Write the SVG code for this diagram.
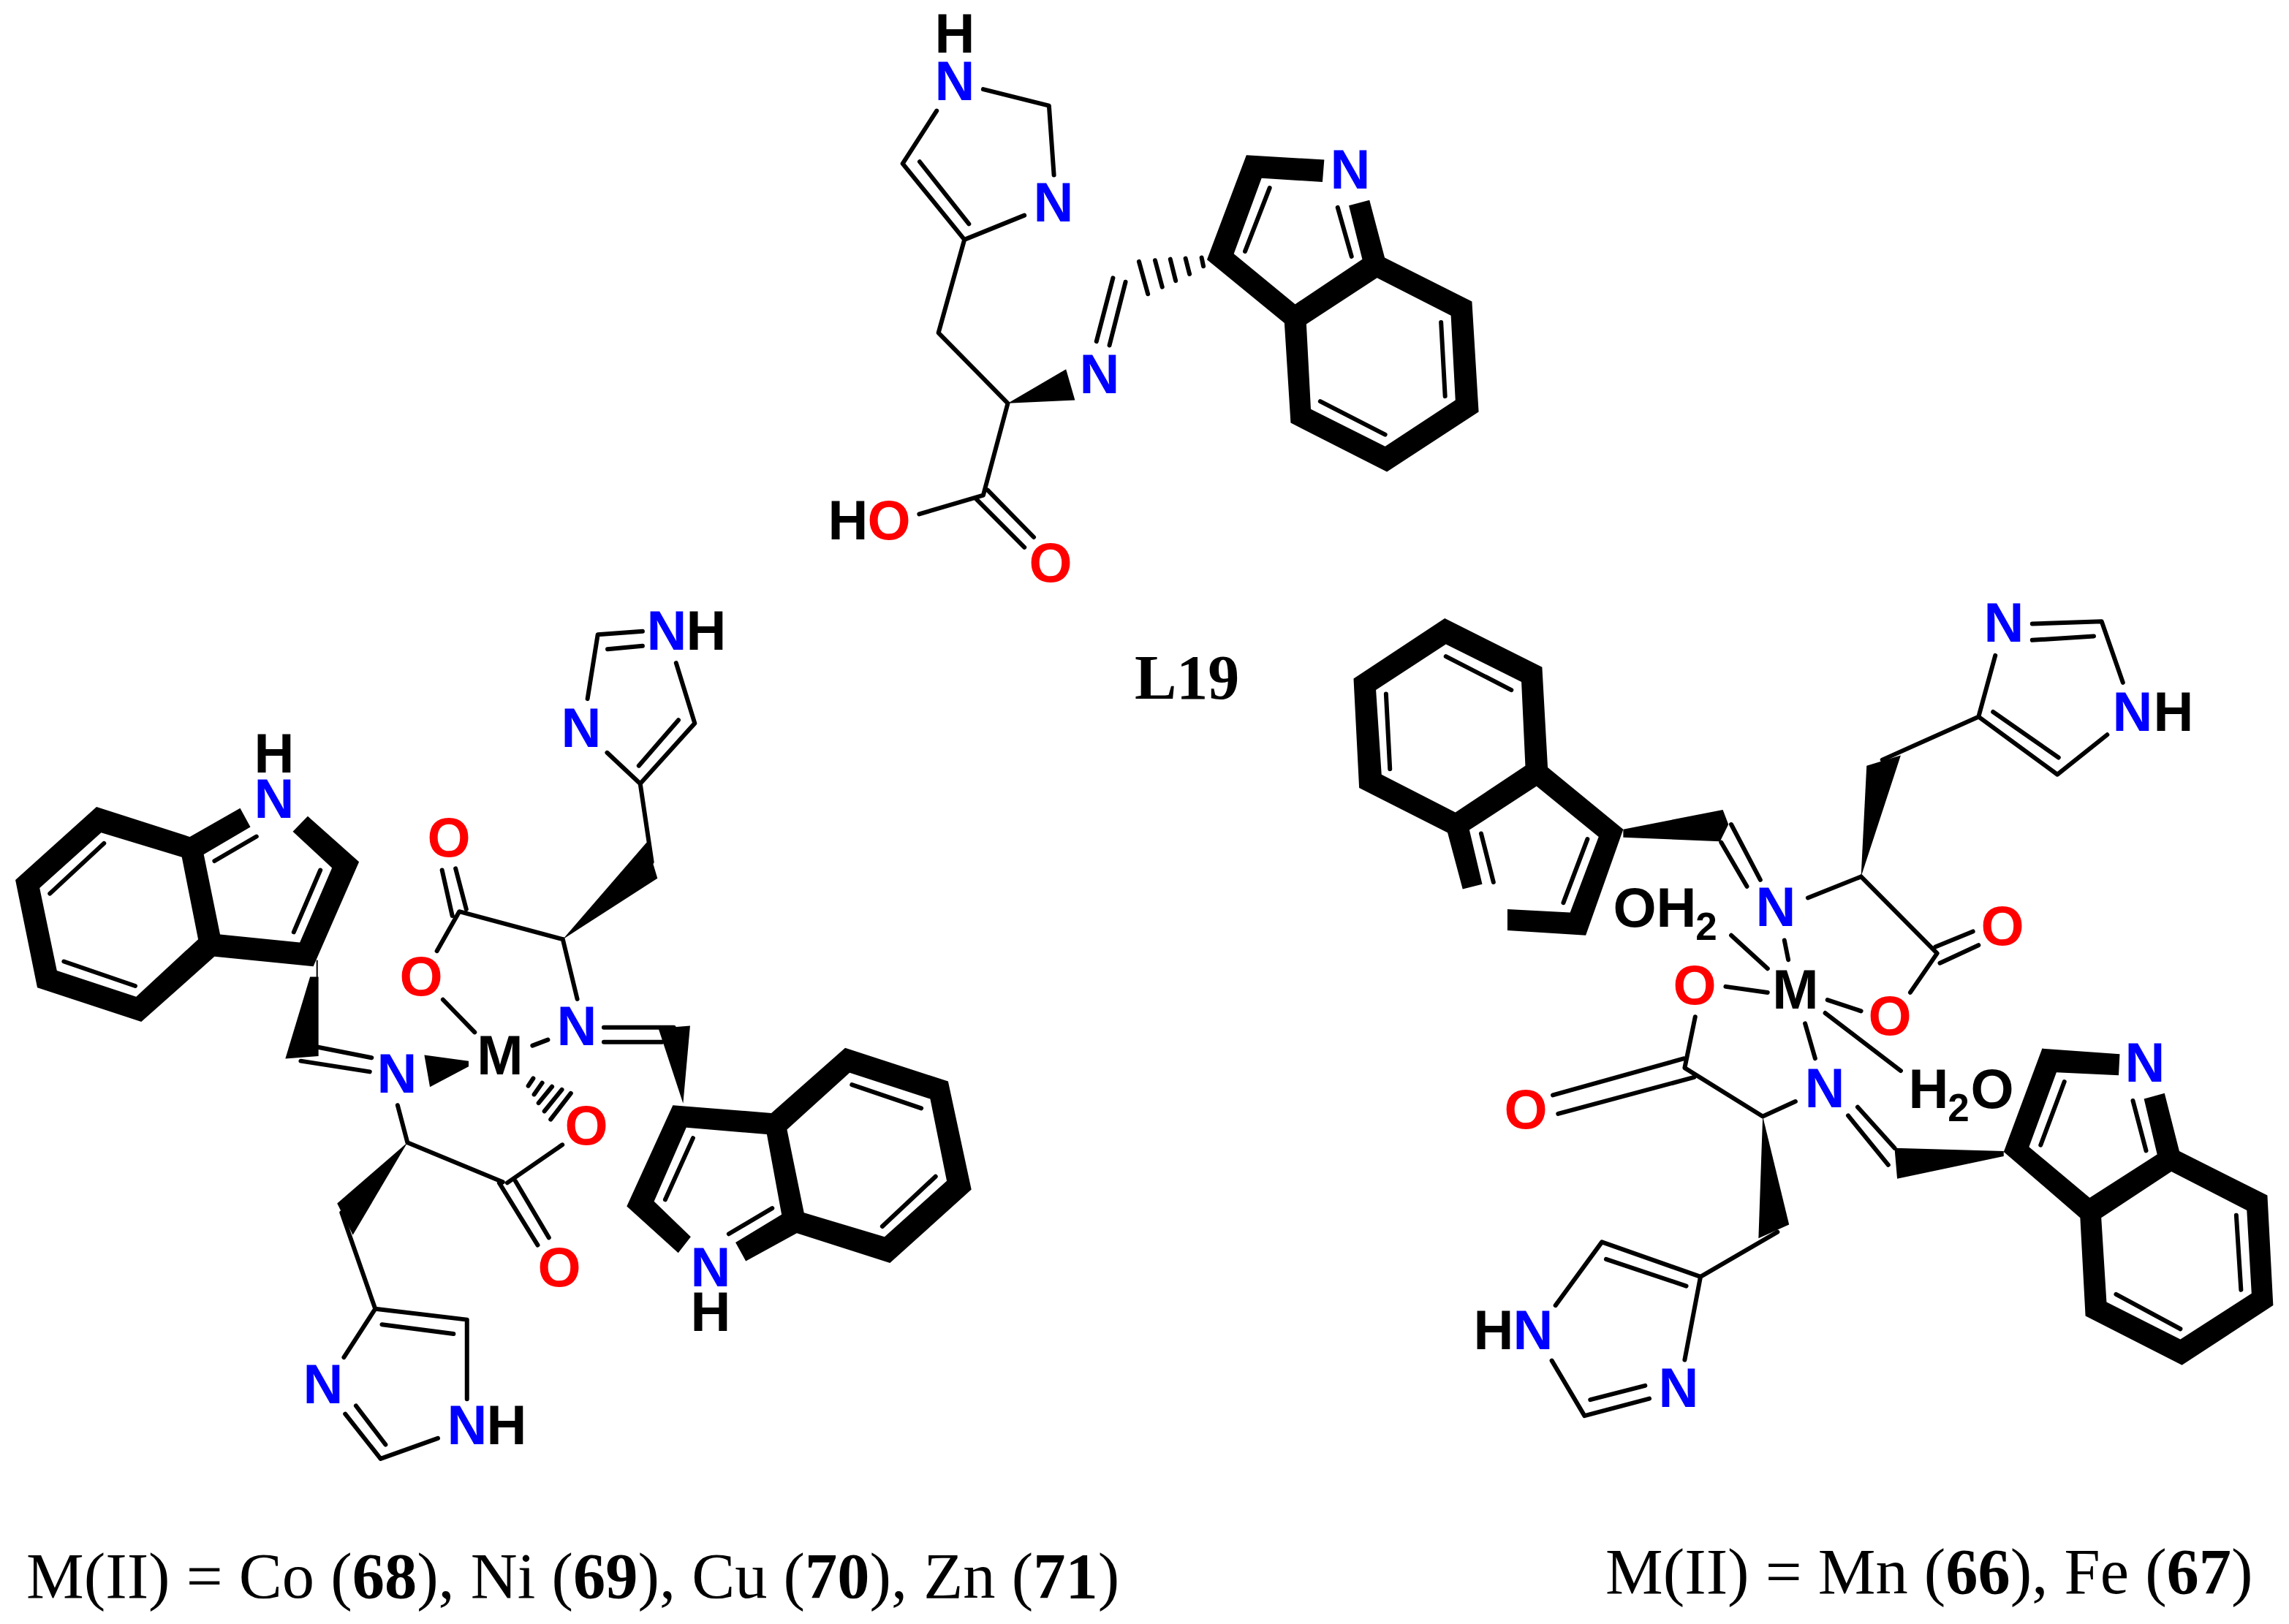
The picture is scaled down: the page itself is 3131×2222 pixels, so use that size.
<svg xmlns="http://www.w3.org/2000/svg" width="3131" height="2222" viewBox="0 0 3131 2222">
<style>
.b path{fill:none;stroke:#000;stroke-width:6;stroke-linecap:round;stroke-linejoin:round;vector-effect:non-scaling-stroke}
.b path.f{fill:#000;stroke:none;fill-rule:evenodd}
.b path.h{stroke-width:2}
text{font-family:"Liberation Sans",Arial,sans-serif;font-weight:700;font-size:76px;text-anchor:middle;fill:#000}
.N{fill:#00f}.O{fill:#f00}
.s{font-size:53px}
.c{font-family:"Liberation Serif","Times New Roman",serif;font-weight:400;font-size:88.5px;text-anchor:start}
.c tspan{font-weight:700}
</style>
<rect width="3131" height="2222" fill="#fff"/>
<g id="ligand-L19">
<g class="b" transform="translate(1100,0) scale(.6122,.5357)">
<path d="M400 228L547 270L558 447M492 550L358 612L220 418L296 283M258 413L368 572M358 612L300 850L455 1030L400 1265L257 1313M385 1275L492 1398M410 1252L513 1372"/>
<path d="M690 710L653 872M718 720L682 882M888 658L892 680M852 660L861 700M818 662L830 717M784 665L800 733M748 668L768 751"/>
<path class="f" d="M455 1030L585 943L605 1022Z"/>
<path class="f" d="M1162 408L988 396L900 663L1073 825L1087 1080L1302 1205L1507 1052L1492 770L1297 658L1263 511L1217 525L1247 662L1097 777L960 648L1022 455L1158 465ZM1122 828L1280 710L1445 806L1455 1022L1298 1140L1132 1045Z"/>
<path d="M1040 480L985 642M1192 530L1223 655M1423 823L1432 1012M1153 1025L1298 1110"/>
</g>
<text x="1306" y="72">H</text><text class="N" x="1306" y="137">N</text>
<text class="N" x="1441" y="303">N</text><text class="N" x="1504" y="538">N</text><text class="N" x="1847" y="258">N</text>
<text x="1160" y="738">H</text><text class="O" x="1216" y="738">O</text><text class="O" x="1437" y="796">O</text>
<text x="1552" y="956" style="font-family:'Liberation Serif','Times New Roman',serif;font-size:86px;text-anchor:start">L19</text>
</g>
<g id="complex-left">
<g class="b" transform="translate(0,820) scale(.6378,.4464)">
<path d="M1378 98L1282 108L1260 305M1303 153L1378 143M1450 195L1490 380L1373 565L1302 470M1455 370L1370 510M1373 565L1398 805"/>
<path class="f" d="M1207 1042L1387 745L1410 855Z"/>
<path d="M1207 1042L1238 1225M1207 1042L985 957L937 1078M948 830L970 970M977 825L1000 950M950 1227L1018 1327M1142 1368L1175 1350M1295 1312L1445 1312M1295 1357L1420 1357M680 1372L797 1405M645 1415L793 1448"/>
<path class="f" d="M1412 1315L1480 1307L1465 1545Z"/>
<path class="f" d="M665 1157L683 1157L683 1400L612 1408Z"/>
<path class="h" d="M680 1108L680 1157"/>
<path class="f" d="M910 1397L1005 1415L1005 1432L922 1495Z"/>
<path class="f" d="M515 640L407 728L207 636L33 860L80 1190L303 1295L460 1095L672 1125L770 805L660 665L628 712L712 823L643 1052L472 1027L437 782L537 698ZM390 790L425 1042L292 1218L122 1138L85 885L217 715Z"/>
<path d="M223 748L107 902M137 1110L290 1185M687 830L630 1020M550 727L460 802"/>
</g>
<g class="b" transform="translate(400,1200) scale(.6122,.5102)">
<path d="M538 540L527 560M558 552L540 583M580 562L550 606M602 570L563 628M622 580L577 650"/>
<path d="M235 612L257 712L470 818M480 820L603 718M462 820L548 987M498 815L573 967M110 900L185 1158L390 1187L390 1400M200 1200L360 1225M185 1158L115 1288M118 1440L197 1560L325 1505M142 1418L208 1522"/>
<path class="f" d="M257 712L100 875L135 960Z"/>
<path class="f" d="M890 965L808 870L880 672L1060 690L1093 905L990 980L1013 1030L1127 955L1335 1035L1517 838L1465 548L1235 458L1070 633L850 612L747 883L862 1008ZM1105 677L1245 525L1425 595L1462 815L1323 965L1143 900Z"/>
<path d="M895 700L833 865M1072 888L975 957M1250 557L1405 620M1437 803L1318 937"/>
</g>
<text class="N" x="912" y="889">N</text><text x="966" y="889">H</text>
<text class="N" x="795" y="1022">N</text>
<text class="O" x="614" y="1172">O</text><text class="O" x="576" y="1362">O</text>
<text x="684" y="1470">M</text><text class="N" x="789" y="1430">N</text><text class="N" x="543" y="1495">N</text>
<text x="375" y="1057">H</text><text class="N" x="375" y="1119">N</text>
<text class="O" x="802" y="1566">O</text><text class="O" x="765" y="1760">O</text>
<text class="N" x="442" y="1920">N</text><text class="N" x="639" y="1976">N</text><text x="693" y="1976">H</text>
<text class="N" x="972" y="1760">N</text><text x="972" y="1821">H</text>
<text class="c" x="36" y="2186">M(II) = Co (<tspan>68</tspan>), Ni (<tspan>69</tspan>), Cu (<tspan>70</tspan>), Zn (<tspan>71</tspan>)</text>
</g>
<g id="complex-right">
<g class="b" transform="translate(1840,820) scale(.7653,.4464)">
<path d="M1228 75L1352 68L1390 255M1228 125L1338 113M1362 415L1273 537L1132 360L1162 172M1275 485L1158 345M1132 360L960 492"/>
<path class="f" d="M922 850L932 510L993 478Z"/>
<path d="M922 850L827 915M922 850L1058 1085L1010 1205M1055 1065L1122 1018M1063 1115L1132 1060"/>
<path d="M690 1030L755 1132M785 1045L792 1105M680 1187L755 1205M862 1228L922 1262M822 1300L840 1407M858 1268L993 1445"/>
<path class="f" d="M290 950L402 960L453 728L342 573L222 707L245 873L210 888L183 715L25 578L15 243L178 58L352 208L362 515L497 705L430 1030L290 1015ZM322 510L197 653L65 537L55 278L180 138L315 253Z"/>
<path d="M180 175L297 278M73 290L80 520M433 735L390 930M243 718L265 867"/>
<path class="f" d="M497 705L675 645L685 690L670 742L497 730Z"/>
<path d="M690 690L742 860M672 745L718 880"/>
</g>
<g class="b" transform="translate(2000,1280) scale(.7213,.5102)">
<path d="M442 218L422 355L570 485L632 445M172 428L420 330M182 478L440 380M598 795L452 915L265 822L177 992M425 940L273 868M452 915L422 1138M170 1140L232 1288L355 1242M243 1245L347 1207M750 460L820 570M732 483L808 615"/>
<path class="f" d="M570 485L562 812L620 775Z"/>
<path class="f" d="M820 570L1027 578L1027 592L825 652Z"/>
<path class="f" d="M1247 318L1100 303L1027 580L1172 757L1182 1020L1365 1152L1538 992L1527 697L1360 578L1332 423L1293 438L1318 587L1190 703L1075 567L1127 367L1245 375ZM1212 757L1345 633L1488 737L1497 960L1362 1083L1222 983Z"/>
<path d="M1142 392L1097 562M1272 443L1297 577M1468 750L1477 950M1240 962L1362 1055"/>
</g>
<text class="N" x="2741" y="878">N</text><text class="N" x="2917" y="1000">N</text><text x="2973" y="1000">H</text>
<text class="N" x="2429" y="1267">N</text><text class="O" x="2739" y="1293">O</text>
<text class="O" x="2585" y="1416">O</text><text x="2456" y="1380">M</text><text class="O" x="2318" y="1374">O</text>
<text x="2236" y="1268">O</text><text x="2293" y="1268">H</text><text class="s" x="2334" y="1286">2</text>
<text class="O" x="2087" y="1544">O</text><text class="N" x="2496" y="1515">N</text>
<text class="N" x="2296" y="1925">N</text><text x="2043" y="1846">H</text><text class="N" x="2097" y="1846">N</text>
<text x="2638" y="1516">H</text><text class="s" x="2679" y="1534">2</text><text x="2725" y="1516">O</text>
<text class="N" x="2934" y="1480">N</text>
<text class="c" x="2196" y="2180">M(II) = Mn (<tspan>66</tspan>), Fe (<tspan>67</tspan>)</text>
</g>
</svg>
